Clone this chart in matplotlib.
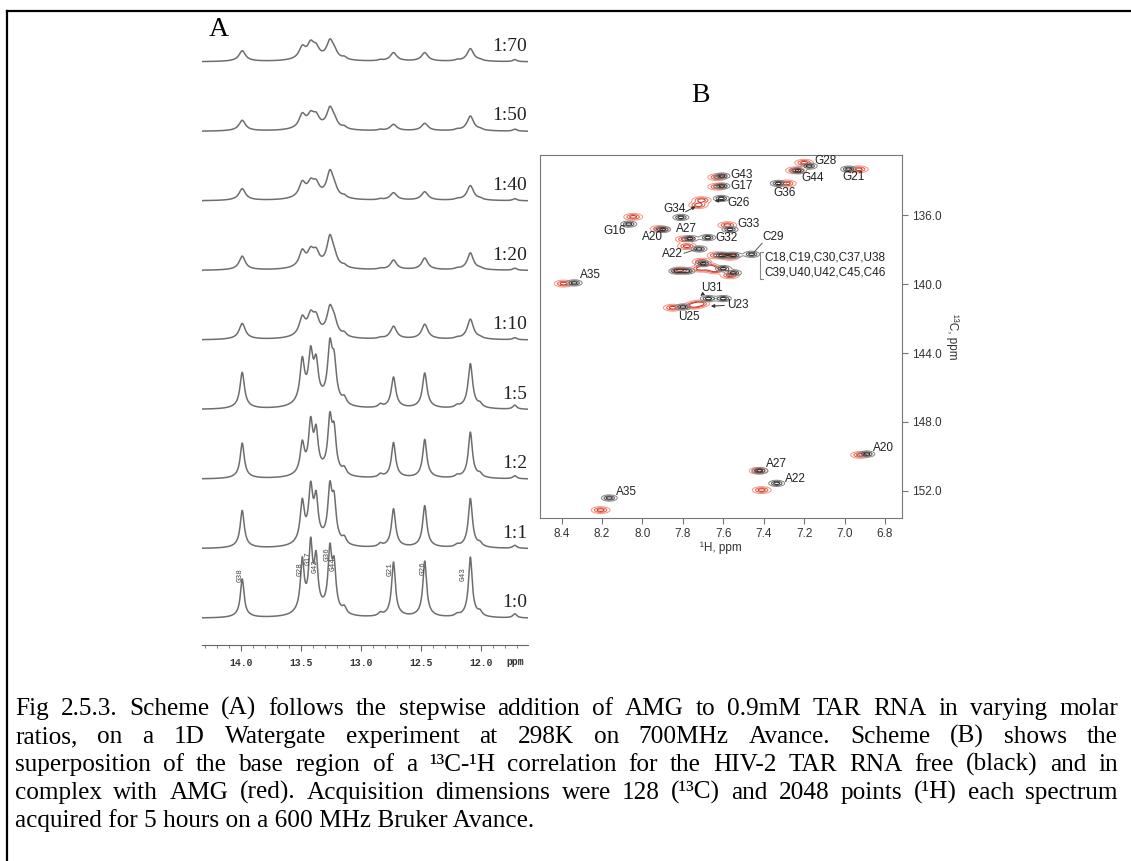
import numpy as np
import matplotlib
matplotlib.use("Agg")
import matplotlib.pyplot as plt
from matplotlib.lines import Line2D

W, H = 1131, 861
fig = plt.figure(figsize=(W / 100, H / 100), dpi=100)

# ---------------- panel A: 1D imino spectra during AMG titration ----------------
ratios = ["1:0", "1:1", "1:2", "1:5", "1:10", "1:20", "1:40", "1:50", "1:70"]
peak_names = ["G38", "G28", "G17", "G42", "G36", "G44", "G21", "G26", "G43"]
peak_ppm = [13.99, 13.49, 13.42, 13.375, 13.26, 13.225, 12.73, 12.47, 12.09]
# apparent peak amplitudes (arbitrary units), one row per ratio
peak_heights = [
    [36, 48, 60, 46, 55, 40, 51, 52, 56],   # 1:0
    [35, 38, 48, 38, 48, 36, 36, 39, 46],   # 1:1
    [33, 28, 45, 36, 48, 36, 33, 36, 43],   # 1:2
    [34, 40, 43, 34, 50, 35, 29, 33, 42],   # 1:5
    [15, 17, 17, 15, 24, 12, 12, 14, 19],   # 1:10
    [13, 15, 13, 12, 27, 8, 9, 11, 16],     # 1:20
    [11, 14, 12, 11, 23, 7, 7, 8, 14],      # 1:40
    [10, 13, 11, 10, 18, 6, 6, 7, 14],      # 1:50
    [10, 11, 13, 9, 16, 6, 8, 8, 12],       # 1:70
]
line_hwhm = [0.018, 0.020, 0.020, 0.022, 0.030, 0.030, 0.032, 0.032, 0.032]
minor_ppm = [13.14, 12.84, 12.20, 12.01, 11.72]
minor_heights = [
    [6, 3, 2, 4, 4],
    [6, 3, 2, 3, 3],
    [6, 3, 2, 3, 3],
    [6, 3, 2, 3, 4],
    [3, 1, 1, 1, 2],
    [2, 1, 1, 1, 2],
    [2, 1, 1, 1, 2],
    [2, 1, 1, 1, 2],
    [2, 1, 1, 1, 2],
]
# assignment labels on the free RNA spectrum (ppm, height of label centre)
label_ppm = [14.01, 13.51, 13.445, 13.385, 13.28, 13.235, 12.755, 12.485, 12.15]
label_y = [43, 49, 60, 52, 64, 54, 49, 50, 44]

axA = fig.add_axes([202 / W, 1 - 645 / H, 326 / W, 625 / H])
x = np.linspace(14.325, 11.61, 2500)
step = 69.55


def lor(x, x0, h, w):
    return h / (1 + ((x - x0) / w) ** 2)


for i, ratio in enumerate(ratios):
    w = line_hwhm[i]
    y = np.zeros_like(x)
    for p, h in zip(peak_ppm, peak_heights[i]):
        y += lor(x, p, h, w) + lor(x, p, 0.08 * h, 4 * w)
    for p, h in zip(minor_ppm, minor_heights[i]):
        y += lor(x, p, h, 0.02)
    axA.plot(x, y + i * step, color="#6e6e6e", lw=1.1)
    axA.text(0.997, i * step + 7, ratio, transform=axA.get_yaxis_transform(),
             ha="right", va="bottom", fontsize=14, family="Liberation Serif", color="#222222")

for name, p, ly in zip(peak_names, label_ppm, label_y):
    axA.text(p, ly, name, rotation=90, ha="center", va="center", fontsize=5.5,
             family="Liberation Mono", color="#444444")

axA.set_xlim(14.325, 11.61)
axA.set_ylim(-26.7, 598.3)
axA.set_yticks([])
for s in ["left", "right", "top"]:
    axA.spines[s].set_visible(False)
axA.spines["bottom"].set_color("#666666")
axA.set_xticks([14.0, 13.5, 13.0, 12.5, 12.0])
axA.set_xticklabels(["14.0", "13.5", "13.0", "12.5", "12.0"])
axA.set_xticks(np.arange(11.7, 14.31, 0.1), minor=True)
axA.tick_params(axis="x", which="major", length=4, color="#666666", labelsize=7, pad=5,
                labelcolor="#333333")
axA.tick_params(axis="x", which="minor", length=2, color="#666666")
for t in axA.get_xticklabels():
    t.set_family("Liberation Mono")
    t.set_weight("bold")
axA.text(11.72, -44, "ppm", ha="center", va="center", fontsize=7, family="Liberation Mono",
         weight="bold", color="#333333", clip_on=False)
fig.text(219 / W, 1 - 30 / H, "A", ha="center", va="center", fontsize=20, family="Liberation Serif")

# ---------------- panel B: 13C-1H HSQC overlay ----------------
free_H = [7.607, 7.607, 7.61, 7.81, 8.068, 7.90, 7.765, 7.677, 7.72, 7.567, 7.46, 8.338,
          7.674, 7.60, 7.80, 6.98, 7.175, 7.23, 7.328, 6.89, 7.42, 7.336, 8.164,
          7.608, 7.55, 7.70, 7.60, 7.55, 7.83, 7.78]
free_C = [133.73, 134.31, 135.03, 136.13, 136.52, 136.83, 137.36, 137.30, 137.96, 136.83, 138.27, 139.93,
          140.84, 140.84, 141.33, 133.33, 133.15, 133.42, 134.16, 149.86, 150.83, 151.56, 152.41,
          138.33, 138.33, 138.81, 139.10, 139.35, 139.24, 139.24]
amg_H = [7.63, 7.63, 7.707, 7.724, 8.046, 7.915, 7.79, 7.78, 7.58, 8.39,
         7.85, 7.715, 7.75, 6.93, 7.20, 7.245, 7.286, 6.923, 7.425, 7.41, 8.207,
         7.633, 7.567, 7.666, 7.715, 7.814, 7.567, 7.64, 7.707]
amg_C = [133.80, 134.35, 135.13, 135.42, 136.10, 136.80, 137.40, 137.80, 136.58, 139.97,
         141.37, 141.13, 141.25, 133.34, 132.96, 133.40, 134.16, 149.91, 150.83, 151.95, 153.11,
         138.33, 138.42, 139.00, 139.10, 139.20, 139.49, 139.20, 138.70]

axB = fig.add_axes([540 / W, 1 - 518 / H, 362 / W, 363 / H])
hh, cc = np.meshgrid(np.linspace(6.70, 8.52, 800), np.linspace(132.4, 153.7, 800))


def peaks2d(hs, cs, sh, sc):
    z = np.zeros_like(hh)
    for h0, c0 in zip(hs, cs):
        z += np.exp(-((hh - h0) ** 2 / (2 * sh ** 2) + (cc - c0) ** 2 / (2 * sc ** 2)))
    return z


levels = [0.2, 0.5, 0.8]
axB.contour(hh, cc, peaks2d(amg_H, amg_C, 0.026, 0.11), levels=levels,
            colors=["#f39a8a", "#e8604c", "#cc3422"], linewidths=0.75)
axB.contour(hh, cc, peaks2d(free_H, free_C, 0.022, 0.10), levels=levels,
            colors=["#8a8a8a", "#555555", "#2a2a2a"], linewidths=0.75)

labels_B = ["G43", "G17", "G26", "G36", "G44", "G28", "G21", "G34", "G16", "A20", "A27", "G32", "G33",
            "C29", "A22", "C18,C19,C30,C37,U38", "C39,U40,U42,C45,C46", "A35", "U31", "U23", "U25",
            "A20", "A27", "A22", "A35"]
labels_B_H = [7.566, 7.566, 7.581, 7.354, 7.215, 7.151, 7.012, 7.898, 8.191, 8.002, 7.834, 7.641, 7.532,
              7.408, 7.903, 7.398, 7.398, 8.309, 7.710, 7.581, 7.824,
              6.859, 7.389, 7.294, 8.131]
labels_B_C = [133.67, 134.31, 135.30, 134.72, 133.85, 132.86, 133.79, 135.65, 136.93, 137.28, 136.81, 137.34, 136.52,
              137.28, 138.27, 138.44, 139.31, 139.49, 140.24, 141.23, 141.93,
              149.49, 150.42, 151.29, 152.05]
for t, h0, c0 in zip(labels_B, labels_B_H, labels_B_C):
    axB.text(h0, c0, t, ha="left", va="center", fontsize=8.5, family="Liberation Sans", color="#222222")

arrows = [((7.799, 135.88), (7.725, 135.42)), ((7.581, 135.13), (7.656, 135.19)),
          ((7.690, 140.48), (7.725, 140.77)), ((7.581, 141.23), (7.675, 141.29))]
for a, b in arrows:
    axB.annotate("", xy=b, xytext=a,
                 arrowprops=dict(arrowstyle="-|>", color="#333333", lw=0.7, mutation_scale=5))
for a, b in [((7.794, 138.21), (7.735, 137.98)), ((7.408, 137.63), (7.453, 138.21))]:
    axB.plot([a[0], b[0]], [a[1], b[1]], color="#555555", lw=0.7)
axB.plot([7.404, 7.419, 7.419, 7.404], [138.15, 138.15, 139.72, 139.72], color="#888888", lw=0.8)

axB.set_xlim(8.507, 6.716)
axB.set_ylim(153.57, 132.51)
axB.set_xticks([8.4, 8.2, 8.0, 7.8, 7.6, 7.4, 7.2, 7.0, 6.8])
axB.set_xticklabels(["%.1f" % v for v in [8.4, 8.2, 8.0, 7.8, 7.6, 7.4, 7.2, 7.0, 6.8]])
axB.set_yticks([136, 140, 144, 148, 152])
axB.set_yticklabels(["136.0", "140.0", "144.0", "148.0", "152.0"])
axB.yaxis.tick_right()
axB.yaxis.set_label_position("right")
axB.tick_params(direction="out", length=4, color="#777777", labelsize=8.5, labelcolor="#333333")
for s in axB.spines.values():
    s.set_color("#777777")
for t in axB.get_xticklabels() + axB.get_yticklabels():
    t.set_family("Liberation Sans")
axB.set_xlabel("\u00b9H, ppm", fontsize=8.5, family="Liberation Sans", color="#333333", labelpad=1)
axB.set_ylabel("\u00b9\u00b3C, ppm", fontsize=8.5, family="Liberation Sans", color="#333333",
               rotation=-90, labelpad=12)
fig.text(700 / W, 1 - 95 / H, "B", ha="center", va="center", fontsize=20, family="Liberation Serif")

# ---------------- frame and caption ----------------
fig.add_artist(Line2D([6.5 / W, 6.5 / W], [0, 1 - 10.5 / H], color="black", lw=1.6))
fig.add_artist(Line2D([6.5 / W, 1], [1 - 10.5 / H, 1 - 10.5 / H], color="black", lw=1.6))

cap_lines = [
    "Fig 2.5.3. Scheme (A) follows the stepwise addition of AMG to 0.9mM TAR RNA in varying molar",
    "ratios, on a 1D Watergate experiment at 298K on 700MHz Avance. Scheme (B) shows the",
    "superposition of the base region of a \u00b9\u00b3C-\u00b9H correlation for the HIV-2 TAR RNA free (black) and in",
    "complex with AMG (red). Acquisition dimensions were 128 (\u00b9\u00b3C) and 2048 points (\u00b9H) each spectrum",
    "acquired for 5 hours on a 600 MHz Bruker Avance.",
]
r = fig.canvas.get_renderer()
probe = fig.text(0, 0, cap_lines[0], fontsize=10, family="Liberation Serif")
fs = 10 * 1010 / probe.get_window_extent(r).width
probe.remove()

x0, x1 = 15, 1118
for i, line in enumerate(cap_lines):
    yb = 1 - (715 + 28 * i) / H
    if i == len(cap_lines) - 1:
        fig.text(x0 / W, yb, line, fontsize=fs, family="Liberation Serif", va="baseline")
        continue
    words = line.split(" ")
    objs = [fig.text(0, yb, wd, fontsize=fs, family="Liberation Serif", va="baseline") for wd in words]
    widths = [o.get_window_extent(r).width for o in objs]
    gap = (x1 - x0 - sum(widths)) / (len(words) - 1)
    pos = x0
    for o, wd in zip(objs, widths):
        o.set_x(pos / W)
        pos += wd + gap

fig.savefig("out.png", dpi=100)
